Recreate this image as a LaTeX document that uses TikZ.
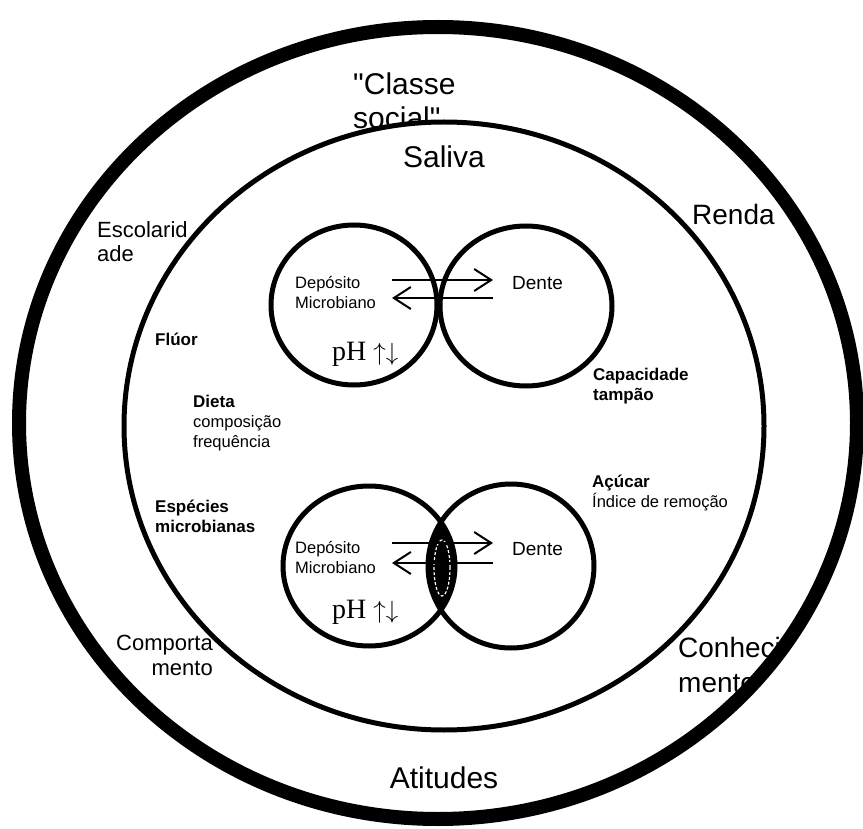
\documentclass[tikz,border=0pt]{standalone}
\usepackage{fontspec}
\setmainfont{Liberation Sans}[Ligatures=TeXOff]
\newfontfamily\phfont{Liberation Serif}
\usetikzlibrary{arrows.meta}
\begin{document}
\begin{tikzpicture}[x=1pt,y=-1pt,
  lbl/.style={inner sep=0pt, anchor=base west},
  big/.style={lbl, font=\fontsize{30}{34}\selectfont},
  large/.style={lbl, font=\fontsize{28}{33}\selectfont},
  mid/.style={lbl, font=\fontsize{22}{25}\selectfont},
  sm/.style={lbl, font=\fontsize{16.5}{20}\selectfont},
  smb/.style={lbl, font=\bfseries\fontsize{17}{20}\selectfont},
  dente/.style={lbl, font=\fontsize{19}{22}\selectfont},
  phlbl/.style={lbl, font=\phfont\fontsize{28}{32}\selectfont},
  ring/.style={line width=14pt},
  zone/.style={line width=5pt, fill=white},
  cell/.style={line width=5pt},
  flow/.style={line width=2pt, -{Straight Barb[length=17pt,width=22pt]}}
]
\useasboundingbox (0,0) rectangle (863,829);
\fill[white] (0,0) rectangle (863,829);

% outer ring
\draw[ring] (438,423) ellipse [x radius=419pt, y radius=396pt];

% outer band labels
\node[big] (classe1) at (353,95) {"Classe};
\node[big] (classe2) at (353,129) {social"};
\node[large] (renda) at (692,225) {Renda};
\node[mid] (esc1) at (97,238) {Escolarid};
\node[mid] (esc2) at (97,262) {ade};
\node[mid, anchor=base east] (comp1) at (213,650) {Comporta};
\node[mid, anchor=base east] (comp2) at (213,675) {mento};
\node[large] (conh1) at (678,657) {Conheci};
\node[large] (conh2) at (678,692) {mento};
\node[big, anchor=base] (atitudes) at (444,788) {Atitudes};

% inner zone
\draw[zone] (444,426) ellipse [x radius=320pt, y radius=304pt];

\node[big, anchor=base] (saliva) at (444,168) {Saliva};
\node[smb] (fluor) at (155,345) {Flúor};
\node[smb] (dieta) at (193,407) {Dieta};
\node[sm] (comp) at (193,428) {composição};
\node[sm] (freq) at (193,447) {frequência};
\node[smb] (esp1) at (155,512) {Espécies};
\node[smb] (esp2) at (155,532) {microbianas};
\node[smb] (cap1) at (593,381) {Capacidade};
\node[smb] (cap2) at (593,400) {tampão};
\node[smb] (acucar) at (592,487) {Açúcar};
\node[sm] (indice) at (592,507) {Índice de remoção};

% top pair of circles
\draw[cell] (354,305) ellipse [x radius=83pt, y radius=80pt];
\draw[cell] (526,306) ellipse [x radius=86pt, y radius=80pt];
\node[sm] (dep1) at (295,289) {Depósito};
\node[sm] (mic1) at (295,309) {Microbiano};
\node[dente] (dente1) at (512,290) {Dente};
\node[phlbl] (ph1) at (332,360) {pH $\uparrow\downarrow$};
\coordinate (ta1) at (392,280);
\coordinate (ta2) at (493,280);
\coordinate (tb1) at (493,298);
\coordinate (tb2) at (392,298);
\draw[flow] (ta1) -- (ta2);
\draw[flow] (tb1) -- (tb2);

% bottom pair of circles with shaded overlap
\begin{scope}
  \clip (369,566) ellipse [x radius=86pt, y radius=80pt];
  \fill[black] (511,566) ellipse [x radius=83pt, y radius=82pt];
\end{scope}
\draw[white, line width=1.2pt, dash pattern=on 3pt off 2pt] (442,568) ellipse [x radius=8pt, y radius=28pt];
\draw[cell] (369,566) ellipse [x radius=86pt, y radius=80pt];
\draw[cell] (511,566) ellipse [x radius=83pt, y radius=82pt];
\node[sm] (dep2) at (295,553) {Depósito};
\node[sm] (mic2) at (295,573) {Microbiano};
\node[dente] (dente2) at (512,555) {Dente};
\node[phlbl] (ph2) at (332,618) {pH $\uparrow\downarrow$};
\coordinate (ba1) at (392,543);
\coordinate (ba2) at (493,543);
\coordinate (bb1) at (493,563);
\coordinate (bb2) at (392,563);
\draw[flow] (ba1) -- (ba2);
\draw[flow] (bb1) -- (bb2);
\end{tikzpicture}
\end{document}
